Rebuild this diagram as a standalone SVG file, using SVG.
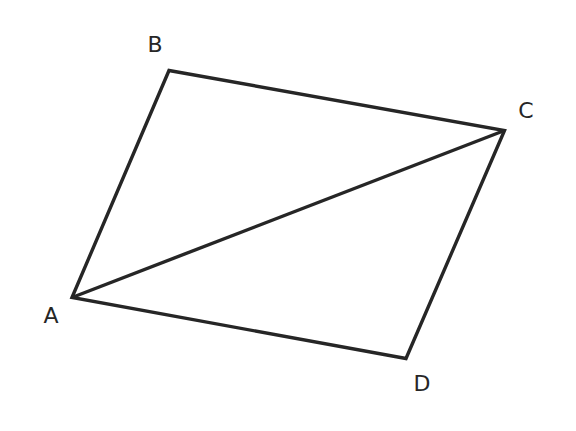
<svg xmlns="http://www.w3.org/2000/svg" width="576" height="431" viewBox="0 0 576 431">
<style>
.edge{fill:none;stroke:#262626;stroke-width:3.4;stroke-linecap:butt;stroke-linejoin:miter}
.lbl{font-family:"DejaVu Sans",sans-serif;font-size:22px;fill:#262626;text-anchor:middle}
</style>
<rect width="576" height="431" fill="#ffffff"/>
<g id="connectors">
<path class="edge" d="M72,297.5 L169,70.5 L504.5,130.5 L406,358.5 Z"/>
<path class="edge" d="M72,297.5 L504.5,130.5"/>
</g>
<g id="node-A"><text class="lbl" x="51" y="323">A</text></g>
<g id="node-B"><text class="lbl" x="155" y="51.5">B</text></g>
<g id="node-C"><text class="lbl" x="526" y="118">C</text></g>
<g id="node-D"><text class="lbl" x="422" y="391">D</text></g>
</svg>
